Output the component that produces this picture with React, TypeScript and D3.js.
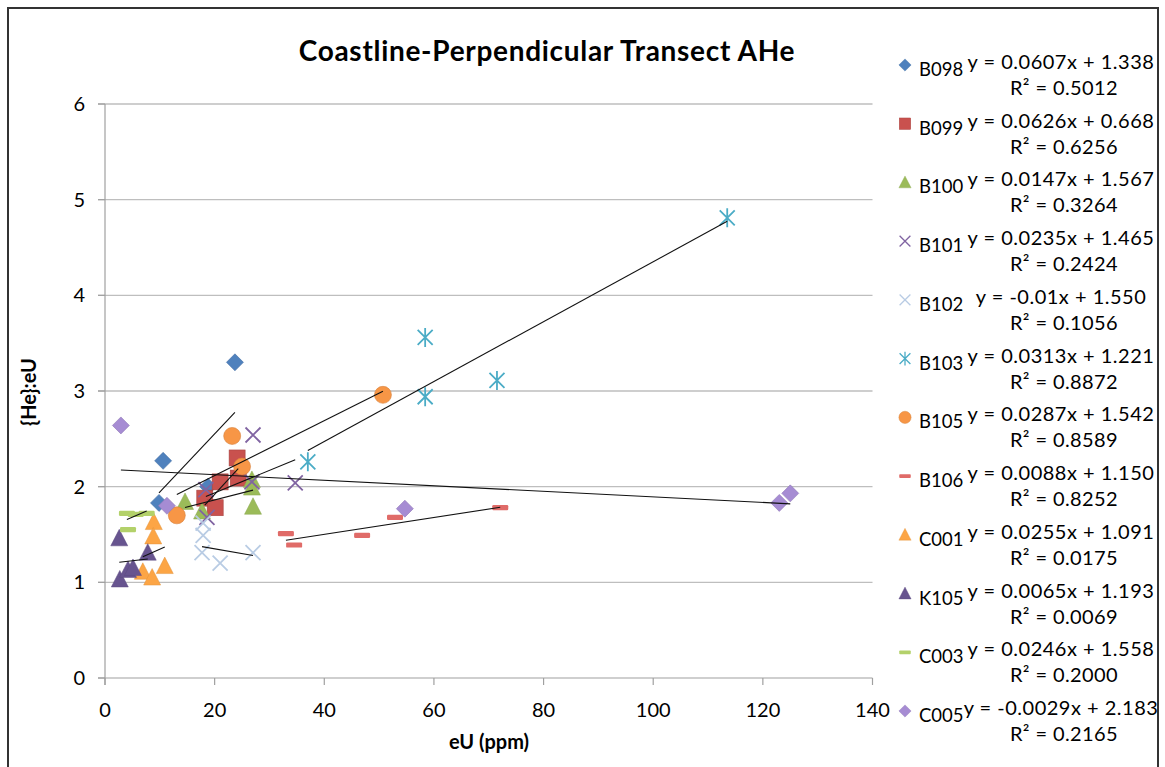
import React from "react";
import * as d3 from "d3";

// series names in legend order
const seriesNames = ["B098", "B099", "B100", "B101", "B102", "B103", "B105", "B106", "C001", "K105", "C003", "C005"];

// [eU, {He}:eU] points
const b098 = [[9.85, 1.83], [10.6, 2.27], [18.8, 2.0], [23.7, 3.3]];
const b099 = [[18.2, 1.88], [20.1, 1.78], [21.0, 2.05], [24.3, 2.09], [24.1, 2.3]];
const b100 = [[14.6, 1.84], [17.7, 1.74], [26.8, 2.07], [26.8, 1.99], [27.0, 1.79]];
const b101 = [[18.6, 1.68], [18.4, 1.97], [26.8, 2.05], [27.0, 2.54], [34.7, 2.04]];
const b102 = [[17.9, 1.62], [17.9, 1.49], [17.7, 1.31], [21.0, 1.2], [27.0, 1.31]];
const b103 = [[37.0, 2.26], [58.4, 2.94], [58.4, 3.56], [71.5, 3.11], [113.5, 4.81]];
const b105 = [[13.1, 1.7], [23.2, 2.53], [25.0, 2.21], [50.7, 2.96]];
const b106 = [[33.0, 1.51], [34.5, 1.39], [46.9, 1.49], [52.9, 1.68], [72.1, 1.78]];
const c001 = [[8.9, 1.63], [8.8, 1.48], [10.9, 1.17], [6.9, 1.11], [8.6, 1.05]];
const k105 = [[2.6, 1.46], [7.8, 1.31], [2.7, 1.03], [4.2, 1.13], [5.1, 1.15]];
const c003 = [[4.0, 1.72], [5.6, 1.71], [7.6, 1.72], [4.2, 1.55]];
const c005 = [[2.9, 2.64], [11.3, 1.8], [54.7, 1.77], [123.0, 1.83], [125.0, 1.93]];
const points = [b098, b099, b100, b101, b102, b103, b105, b106, c001, k105, c003, c005];

// linear trendlines
const slopes = [0.0607, 0.0626, 0.0147, 0.0235, -0.01, 0.0313, 0.0287, 0.0088, 0.0255, 0.0065, 0.0246, -0.0029];
const intercepts = [1.338, 0.668, 1.567, 1.465, 1.55, 1.221, 1.542, 1.15, 1.091, 1.193, 1.558, 2.183];
const equations = [
  "y = 0.0607x + 1.338", "y = 0.0626x + 0.668", "y = 0.0147x + 1.567", "y = 0.0235x + 1.465",
  "y = -0.01x + 1.550", "y = 0.0313x + 1.221", "y = 0.0287x + 1.542", "y = 0.0088x + 1.150",
  "y = 0.0255x + 1.091", "y = 0.0065x + 1.193", "y = 0.0246x + 1.558", "y = -0.0029x + 2.183",
];
const r2 = ["0.5012", "0.6256", "0.3264", "0.2424", "0.1056", "0.8872", "0.8589", "0.8252", "0.0175", "0.0069", "0.2000", "0.2165"];

const xTicks = [0, 20, 40, 60, 80, 100, 120, 140];
const yTicks = [0, 1, 2, 3, 4, 5, 6];

const shapes = ["diamond", "square", "triangle", "x", "x", "asterisk", "circle", "dash", "triangle", "triangle", "dash", "diamond"];
const colors = ["#4F81BD", "#C9514E", "#9BBB59", "#8064A2", "#B9CCE4", "#4BACC6", "#F79646", "#E06B68", "#FCA545", "#67548F", "#B3D16A", "#A68CD3"];

const FONT = "Lato, 'Open Sans', sans-serif";

function Marker({ shape, color, x, y, k = 1 }: { shape: string; color: string; x: number; y: number; k?: number }) {
  const t = `translate(${x},${y}) scale(${k})`;
  if (shape === "diamond") return <path transform={t} d="M0,-8.5L8.5,0L0,8.5L-8.5,0Z" fill={color} stroke={d3.color(color)!.darker(0.4).toString()} strokeWidth={0.6} />;
  if (shape === "square") return <rect transform={t} x={-8} y={-8} width={16} height={16} fill={color} stroke={d3.color(color)!.darker(0.5).toString()} strokeWidth={0.6} />;
  if (shape === "triangle") return <path transform={t} d="M0,-9L8.5,7.5L-8.5,7.5Z" fill={color} stroke={d3.color(color)!.darker(0.3).toString()} strokeWidth={0.5} />;
  if (shape === "circle") return <circle transform={t} r={8.5} fill={color} stroke={d3.color(color)!.darker(0.4).toString()} strokeWidth={0.6} />;
  if (shape === "x") return <path transform={t} d="M-7.5,-7.5L7.5,7.5M-7.5,7.5L7.5,-7.5" stroke={color} strokeWidth={1.8} fill="none" />;
  if (shape === "asterisk") return <path transform={t} d="M-7.5,-7.5L7.5,7.5M-7.5,7.5L7.5,-7.5M0,-9.5L0,9.5" stroke={color} strokeWidth={1.8} fill="none" />;
  return <rect transform={t} x={-8} y={-2.6} width={16} height={5.2} rx={1.2} fill={color} />;
}

export default function App() {
  const x = d3.scaleLinear().domain([0, 140]).range([105, 872.5]);
  const y = d3.scaleLinear().domain([0, 6]).range([678, 104]);
  const legendY = d3.scalePoint().domain(seriesNames).range([62, 708]);

  return (
    <svg width={1165} height={767} style={{ position: "absolute", left: 0, top: 0, background: "#fff" }} fontFamily={FONT}>
      <rect x={8} y={8} width={1150} height={800} fill="#fff" stroke="#333" strokeWidth={2} />

      <text x={547} y={61} textAnchor="middle" fontSize={28} fontWeight="bold" letterSpacing={0.7} fill="#000">
        Coastline-Perpendicular Transect AHe
      </text>

      {/* gridlines */}
      {yTicks.filter((t) => t > 0).map((t) => (
        <line key={t} x1={98} x2={x(140)} y1={y(t)} y2={y(t)} stroke="#BEBEBE" strokeWidth={1.3} />
      ))}

      {/* axes */}
      <line x1={x(0)} x2={x(0)} y1={y(6)} y2={y(0) + 7} stroke="#A0A0A0" strokeWidth={1.2} />
      <line x1={98} x2={x(140)} y1={y(0)} y2={y(0)} stroke="#A0A0A0" strokeWidth={1.2} />
      {yTicks.map((t) => (
        <g key={t}>
          <line x1={98} x2={x(0)} y1={y(t)} y2={y(t)} stroke="#A0A0A0" strokeWidth={1.2} />
          <text x={85} y={y(t) + 7} textAnchor="end" fontSize={20} fill="#000">{t}</text>
        </g>
      ))}
      {xTicks.map((t) => (
        <g key={t}>
          <line x1={x(t)} x2={x(t)} y1={y(0)} y2={y(0) + 7} stroke="#A0A0A0" strokeWidth={1.2} />
          <text x={x(t)} y={717} textAnchor="middle" fontSize={20} fill="#000">{t}</text>
        </g>
      ))}
      <text x={489} y={749} textAnchor="middle" fontSize={20} fontWeight="bold">eU (ppm)</text>
      <text transform={`translate(36,392) rotate(-90)`} textAnchor="middle" fontSize={20} fontWeight="bold">{"{He}:eU"}</text>

      {/* markers */}
      {points.map((pts, i) => (
        <g key={seriesNames[i]}>
          {pts.map((p, j) => (
            <Marker key={j} shape={shapes[i]} color={colors[i]} x={x(p[0])} y={y(p[1])} />
          ))}
        </g>
      ))}

      {/* trendlines */}
      {points.map((pts, i) => {
        const [x0, x1] = d3.extent(pts, (p) => p[0]) as [number, number];
        return (
          <line key={i} x1={x(x0)} x2={x(x1)} y1={y(slopes[i] * x0 + intercepts[i])} y2={y(slopes[i] * x1 + intercepts[i])}
            stroke="#111" strokeWidth={1.1} />
        );
      })}

      {/* legend */}
      {seriesNames.map((name, i) => {
        const ly = legendY(name)!;
        return (
          <g key={name} fontSize={20}>
            <Marker shape={shapes[i]} color={colors[i]} x={905} y={ly + 3} k={0.72} />
            <text x={919} y={ly + 14} fontSize={18.5}>{name}</text>
            <text x={1061} y={ly + 7} textAnchor="middle" letterSpacing={0.5}>{equations[i]}</text>
            <text x={1064} y={ly + 33} textAnchor="middle" letterSpacing={0.4}>R² = {r2[i]}</text>
          </g>
        );
      })}
    </svg>
  );
}
